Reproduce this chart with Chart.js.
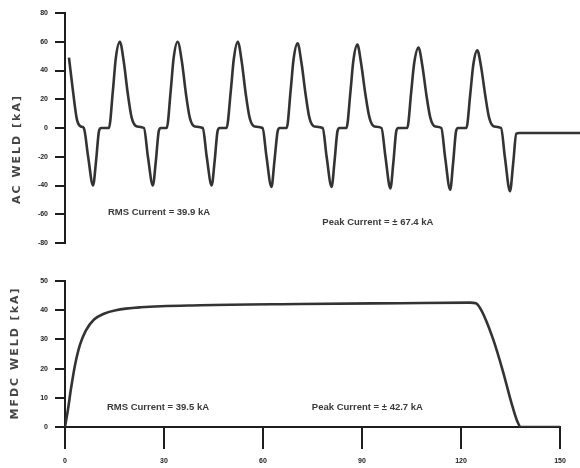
<!DOCTYPE html>
<html>
<head>
<meta charset="utf-8">
<script src="https://cdn.jsdelivr.net/npm/chart.js@4"></script>
<style>
  html, body { margin: 0; padding: 0; background: #fff; }
  #wrap-ac { position: absolute; left: 0; top: 0; }
  #wrap-dc { position: absolute; left: 0; top: 255px; }
</style>
</head>
<body>
<div id="wrap-ac"><canvas id="chartAC" width="580" height="255"></canvas></div>
<div id="wrap-dc"><canvas id="chartDC" width="580" height="213"></canvas></div>
<script>
// ---- data (time in ms, current in kA) ----

const acTime = [
  1.2, 2.4, 3.6, 4.8, 5.7, 7.0, 8.5, 9.4, 10.3, 10.9, 13.3, 14.5, 15.4, 16.6,
  17.8, 19.0, 20.2, 21.8, 23.9, 25.1, 26.6, 27.5, 28.4, 29.0, 30.8, 32.0, 32.9, 34.1,
  35.4, 36.6, 37.8, 39.3, 41.7, 42.9, 44.4, 45.3, 46.2, 46.8, 48.9, 50.2, 51.1, 52.3,
  53.5, 54.7, 55.9, 57.4, 59.8, 61.0, 62.5, 63.4, 64.4, 65.0, 67.1, 68.3, 69.2, 70.4,
  71.6, 72.8, 74.0, 75.5, 78.0, 79.2, 80.7, 81.6, 82.5, 83.1, 85.2, 86.4, 87.3, 88.5,
  89.7, 90.9, 92.2, 93.7, 95.8, 97.0, 98.5, 99.4, 100.3, 100.9, 103.6, 104.8, 105.7, 107.0,
  108.2, 109.4, 110.6, 112.1, 113.9, 115.1, 116.6, 117.5, 118.4, 119.0, 121.5, 122.7, 123.6, 124.8,
  126.0, 127.2, 128.4, 129.9, 132.0, 133.2, 134.7, 135.7, 136.6, 137.5, 155.9
];
const acCurrent = [
  49, 26, 6, 1, 0, -20, -40, -23, -2, 0, 0, 26, 49, 60,
  46, 24, 7, 1, 0, -20, -40, -23, -2, 0, 0, 26, 49, 60,
  46, 24, 7, 1, 0, -20, -40, -23, -2, 0, 0, 26, 48, 60,
  46, 24, 7, 1, 0, -20, -41, -23, -2, 0, 0, 26, 48, 59,
  45, 24, 7, 1, 0, -20, -41, -23, -2, 0, 0, 25, 47, 58,
  44, 24, 7, 1, 0, -20, -42, -24, -2, 0, 0, 25, 45, 56,
  43, 23, 7, 1, 0, -21, -43, -24, -2, 0, 0, 24, 44, 54,
  42, 23, 7, 1, 0, -21, -44, -24, -4, -3.5, -3.5
];

const dcTime = [0, 0.9, 1.8, 3.0, 4.5, 6.3, 8.8, 11.8, 15.4, 23.0, 41.1, 71.3, 101.5,
  122.7, 124.5, 126.3, 129.6, 132.6, 135.3, 136.9, 138.1, 150];
const dcCurrent = [0, 6, 13, 21, 28, 33, 36.8, 38.8, 40, 41, 41.7, 42.1, 42.4,
  42.6, 42.4, 39.7, 30.5, 19.5, 8.2, 2.4, 0, 0];

const acTicks = [-80, -60, -40, -20, 0, 20, 40, 60, 80];
const dcTicks = [0, 10, 20, 30, 40, 50];
const timeTicks = [0, 30, 60, 90, 120, 150];

const acNotes = ['RMS Current = 39.9 kA', 'Peak Current = \u00b1 67.4 kA'];
const dcNotes = ['RMS Current = 39.5 kA', 'Peak Current = \u00b1 42.7 kA'];


// ---- helpers ----

const ink = '#1e1e1e';
const tickFont = { size: 7, weight: 'bold', family: 'Liberation Sans' };

function toPoints(xs, ys) {
  return xs.map((x, i) => ({ x: x, y: ys[i] }));
}

function yAxis(values) {
  return {
    min: values[0],
    max: values[values.length - 1],
    afterBuildTicks: s => { s.ticks = values.map(v => ({ value: v })); },
    afterFit: s => { s.width = 65; },
    ticks: { color: '#222', padding: 7, font: tickFont },
    grid: { drawOnChartArea: false, tickLength: 10, color: ink, lineWidth: 2 },
    border: { display: true, color: ink, width: 2 }
  };
}

// texts in the plot + rotated axis title
function textPlugin(notes, where, title, tx, ty) {
  return {
    id: 'weldText',
    afterDraw(chart) {
      const ctx = chart.ctx;
      const sx = chart.scales.x, sy = chart.scales.y;
      ctx.save();
      ctx.fillStyle = '#3a3a3a';
      ctx.font = 'bold 9.5px "Liberation Sans"';
      ctx.textBaseline = 'middle';
      notes.forEach((t, i) => {
        ctx.fillText(t, sx.getPixelForValue(where[i][0]), sy.getPixelForValue(where[i][1]));
      });
      ctx.translate(tx, ty);
      ctx.rotate(-Math.PI / 2);
      ctx.font = 'bold 11px "DejaVu Sans"';
      ctx.letterSpacing = '2px';
      ctx.textAlign = 'center';
      ctx.fillStyle = '#444';
      ctx.fillText(title, 0, 0);
      ctx.restore();
    }
  };
}

const lineStyle = {
  borderColor: '#333',
  borderWidth: 2.6,
  pointRadius: 0,
  fill: false,
  cubicInterpolationMode: 'monotone'
};


// ---- AC chart ----

new Chart(document.getElementById('chartAC'), {
  type: 'line',
  data: { datasets: [Object.assign({ data: toPoints(acTime, acCurrent) }, lineStyle)] },
  options: {
    responsive: false,
    animation: false,
    layout: { padding: { top: 13, bottom: 12, left: 0, right: 0 } },
    plugins: { legend: { display: false }, tooltip: { enabled: false } },
    scales: {
      x: { type: 'linear', min: 0, max: 155.9, display: false },
      y: yAxis(acTicks)
    }
  },
  plugins: [textPlugin(acNotes, [[13, -59], [77.9, -65.5]], 'AC WELD [kA]', 17, 149)]
});


// ---- MFDC chart ----

new Chart(document.getElementById('chartDC'), {
  type: 'line',
  data: { datasets: [Object.assign({ data: toPoints(dcTime, dcCurrent) }, lineStyle)] },
  options: {
    responsive: false,
    animation: false,
    layout: { padding: { top: 26, bottom: 0, left: 0, right: 20 } },
    plugins: { legend: { display: false }, tooltip: { enabled: false } },
    scales: {
      x: {
        type: 'linear',
        min: 0,
        max: 150,
        afterBuildTicks: s => { s.ticks = timeTicks.map(v => ({ value: v })); },
        afterFit: s => { s.height = 41; },
        ticks: { color: '#222', padding: 8, font: tickFont },
        grid: { drawOnChartArea: false, tickLength: 22, color: ink, lineWidth: 2 },
        border: { display: true, color: ink, width: 2 }
      },
      y: yAxis(dcTicks)
    }
  },
  plugins: [textPlugin(dcNotes, [[12.7, 6.85], [74.8, 6.85]], 'MFDC WELD [kA]', 15, 98)]
});
</script>
</body>
</html>
